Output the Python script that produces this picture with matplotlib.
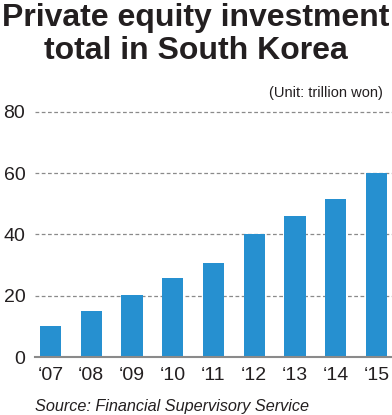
import matplotlib.pyplot as plt
from matplotlib import font_manager

# data
years = ['\u201807', '\u201808', '\u201809', '\u201810', '\u201811', '\u201812', '\u201813', '\u201814', '\u201815']
totals = [10, 15, 20.2, 25.8, 30.6, 40, 46, 51.5, 60]
y_ticks = [0, 20, 40, 60, 80]

names = {f.name for f in font_manager.fontManager.ttflist}
title_font = 'Liberation Sans Narrow' if 'Liberation Sans Narrow' in names else 'Liberation Sans'
plt.rcParams['font.family'] = ['Liberation Sans', 'DejaVu Sans']

fig = plt.figure(figsize=(3.92, 4.15), dpi=100)
ax = fig.add_axes([35 / 392, 58 / 415, 357 / 392, 245 / 415])

x = range(len(years))
ax.bar(x, totals, width=0.52, color='#2690d0', zorder=2)

ax.set_xlim(-0.38, 8.38)
ax.set_ylim(0, 80)
ax.set_yticks(y_ticks)
ax.set_yticklabels([str(v) for v in y_ticks], fontsize=14, color='#231f20')
ax.set_xticks(list(x))
ax.set_xticklabels(years, fontsize=14, color='#231f20')
ax.tick_params(axis='y', length=0, pad=7)
ax.tick_params(axis='x', length=0, pad=7)

for v in y_ticks[1:]:
    ax.axhline(v, color='#8a8a8a', lw=0.9, ls=(0, (3, 2)), zorder=1, clip_on=False)

for s in ['top', 'right', 'left']:
    ax.spines[s].set_visible(False)
ax.spines['bottom'].set_color('#8a8a8a')
ax.spines['bottom'].set_linewidth(1.5)

fig.text(0.5, 1 - 26 / 415, 'Private equity investment', ha='center', va='baseline',
         fontsize=23, fontweight='bold', family=title_font, color='#231f20')
fig.text(0.5, 1 - 59 / 415, 'total in South Korea', ha='center', va='baseline',
         fontsize=23, fontweight='bold', family=title_font, color='#231f20')
fig.text(383 / 392, 1 - 97 / 415, '(Unit: trillion won)', ha='right', va='baseline',
         fontsize=10.5, color='#231f20')
fig.text(35 / 392, 1 - 411 / 415, 'Source: Financial Supervisory Service', ha='left', va='baseline',
         fontsize=11.7, style='italic', color='#231f20')

fig.savefig('out.png', dpi=100)
